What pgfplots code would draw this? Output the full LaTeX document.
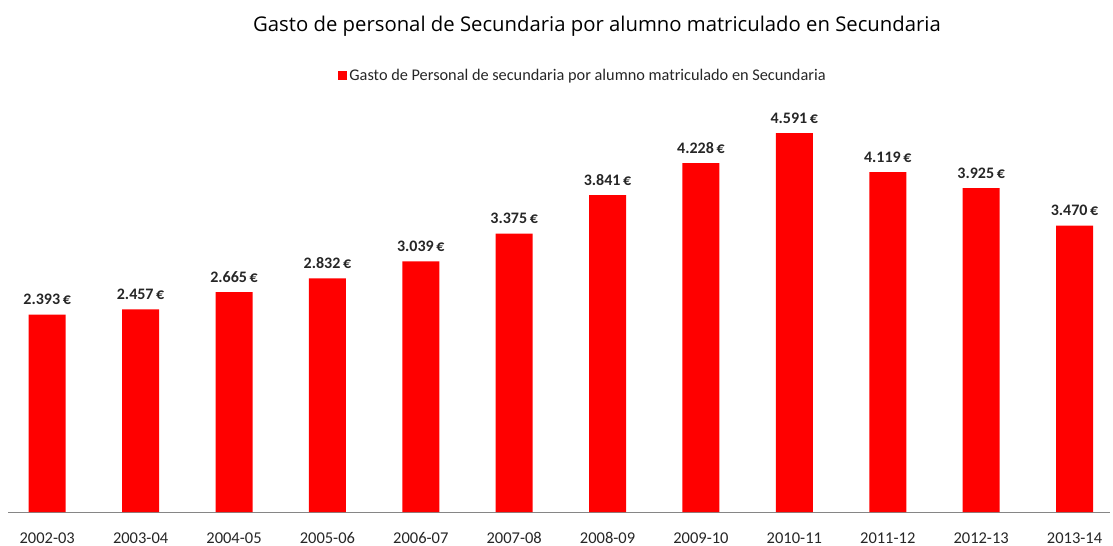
\documentclass[border=0pt]{standalone}
\usepackage{pgfplots}
\pgfplotsset{compat=1.18}
\usepackage{fontspec}
\setmainfont{Carlito}
\newfontfamily\titlefont{Open Sans}
\definecolor{barred}{RGB}{255,0,0}
\definecolor{axgray}{RGB}{134,134,134}
\begin{document}
\begin{tikzpicture}
\useasboundingbox (0bp,0bp) rectangle (1113bp,546bp);
\begin{axis}[
  at={(8bp,34bp)}, anchor=south west,
  scale only axis,
  width=1102bp, height=412.5bp,
  xmin=-0.42, xmax=11.38, ymin=0, ymax=5000,
  axis x line=bottom, axis y line=none,
  x axis line style={-, axgray, line width=1bp},
  xtick={0,...,11},
  xticklabels={2002-03,2003-04,2004-05,2005-06,2006-07,2007-08,2008-09,2009-10,2010-11,2011-12,2012-13,2013-14},
  major tick length=0pt,
  xticklabel style={font=\fontsize{16.5bp}{18bp}\selectfont, text=black!85, anchor=base, inner sep=0pt, yshift=-31bp},
  ybar, bar width=37bp,
  nodes near coords={\pgfmathprintnumber[fixed,precision=0,1000 sep={.},assume math mode=true]{\pgfplotspointmeta}\,€},
  every node near coord/.append style={font=\bfseries\fontsize{16bp}{18bp}\selectfont, text=black!85, anchor=base, inner sep=0pt, yshift=10bp},
  legend style={at={(axis description cs:0.5218,1.059)}, anchor=center, draw=none, fill=none, font=\fontsize{16.3bp}{18bp}\selectfont, text=black!85, inner sep=0pt},
  legend image code/.code={\fill[barred] (0bp,-4.5bp) rectangle (9bp,4.5bp);},
  clip=false,
]
\addplot[fill=barred, draw=none] coordinates {
(0,2393) (1,2457) (2,2665) (3,2832) (4,3039) (5,3375) (6,3841) (7,4228) (8,4591) (9,4119) (10,3925) (11,3470)};
\addlegendentry{Gasto de Personal de secundaria por alumno matriculado en Secundaria}
\end{axis}
\node[anchor=base, inner sep=0pt, font=\titlefont\fontsize{20.3bp}{24bp}\selectfont] at (597bp,514bp) {Gasto de personal de Secundaria por alumno matriculado en Secundaria};
\end{tikzpicture}
\end{document}
